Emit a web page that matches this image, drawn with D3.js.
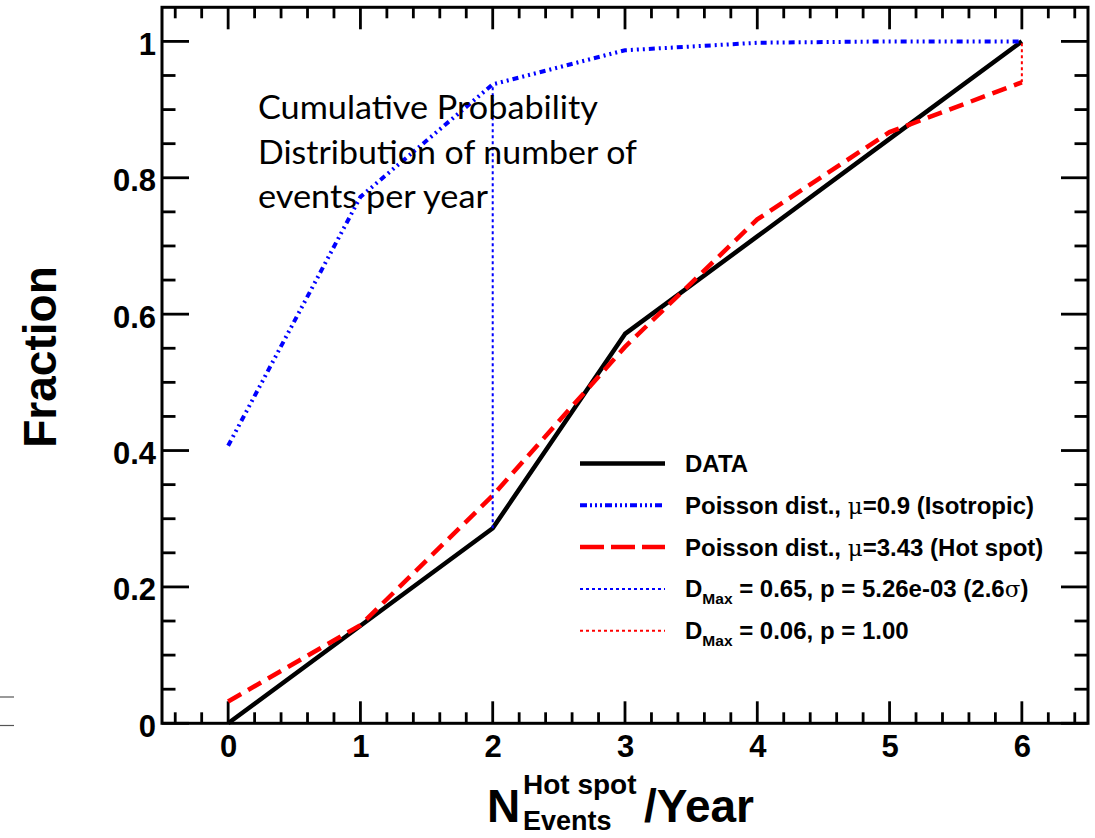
<!DOCTYPE html>
<html>
<head>
<meta charset="utf-8">
<script src="https://cdn.jsdelivr.net/npm/d3@7"></script>
<style>
  html, body { margin: 0; padding: 0; background: #fff; }
  svg { display: block; }
  .lbl { font-family: "Liberation Sans", Arial, Helvetica, sans-serif; font-weight: bold; fill: #000; }
</style>
</head>
<body>
<svg id="chart" width="1095" height="838"></svg>
<script>
// Number of hot-spot events per year
const nEvents = [0, 1, 2, 3, 4, 5, 6];
// Observed cumulative fraction
const dataCdf = [0, 0.143, 0.286, 0.571, 0.714, 0.857, 1.0];
// Poisson CDF, mu = 0.9 (isotropic expectation)
const isoCdf = [0.407, 0.772, 0.937, 0.987, 0.998, 1.0, 1.0];
// Poisson CDF, mu = 3.43 (hot spot expectation)
const hotCdf = [0.032, 0.144, 0.334, 0.552, 0.739, 0.867, 0.940];

// Maximum distance markers: [x, from, to]
const dMaxIso = [2, 0.286, 0.937];
const dMaxHot = [6, 0.940, 1.0];

const xMajor = [0, 1, 2, 3, 4, 5, 6];
const yMajor = [0, 0.2, 0.4, 0.6, 0.8, 1.0];
const yTickText = ["0", "0.2", "0.4", "0.6", "0.8", "1"];

const legendItems = ["DATA", "Poisson dist., |μ|=0.9 (Isotropic)", "Poisson dist., |μ|=3.43 (Hot spot)",
  "D_Max = 0.65, p = 5.26e-03 (2.6|σ|)", "D_Max = 0.06, p = 1.00"];
const noteLines = ["Cumulative Probability", "Distribution of number of", "events per year"];

const svg = d3.select("#chart");
const x = d3.scaleLinear().domain([-0.5, 6.5]).range([162, 1088]);
const y = d3.scaleLinear().domain([0, 1.05]).range([723.3, 7.3]);

// small stray marks on the lower-left margin
svg.append("g").selectAll("line").data([697, 725.5]).join("line")
  .attr("x1", 0).attr("x2", 14).attr("y1", d => d).attr("y2", d => d)
  .attr("stroke", "#555").attr("stroke-width", 1.2);

// ticks (drawn inward on all four sides)
const ticks = svg.append("g").attr("stroke", "#000").attr("stroke-width", 2.8);
const xMinor = d3.range(-4, 65, 2).map(v => v / 10).filter(v => !xMajor.includes(v));
const yMinor = d3.range(1, 21).map(v => v * 0.05).filter(v => !yMajor.some(m => Math.abs(m - v) < 1e-9));
const [yb, yt] = y.range();
const [xl, xr] = x.range();
xMajor.concat(xMinor).forEach(v => {
  const len = xMajor.includes(v) ? 22 : 11;
  ticks.append("line").attr("x1", x(v)).attr("x2", x(v)).attr("y1", yb).attr("y2", yb - len);
  ticks.append("line").attr("x1", x(v)).attr("x2", x(v)).attr("y1", yt).attr("y2", yt + len);
});
yMajor.concat(yMinor).forEach(v => {
  const len = yMajor.some(m => Math.abs(m - v) < 1e-9) ? 27 : 13.5;
  ticks.append("line").attr("y1", y(v)).attr("y2", y(v)).attr("x1", xl).attr("x2", xl + len);
  ticks.append("line").attr("y1", y(v)).attr("y2", y(v)).attr("x1", xr).attr("x2", xr - len);
});

// tick labels through d3 axes
const xAxis = svg.append("g").attr("transform", `translate(0,${yb})`)
  .call(d3.axisBottom(x).tickValues(xMajor).tickFormat(d3.format("d")).tickSize(0).tickPadding(12));
xAxis.select(".domain").remove();
xAxis.selectAll("text").attr("class", "lbl").attr("font-size", 31).attr("dy", "0.71em");

const yAxis = svg.append("g").attr("transform", `translate(${xl},0)`)
  .call(d3.axisLeft(y).tickValues(yMajor).tickFormat((d, i) => yTickText[i]).tickSize(0).tickPadding(6));
yAxis.select(".domain").remove();
yAxis.selectAll("text").attr("class", "lbl").attr("font-size", 31).attr("dy", "0.42em");

// curves
const line = d3.line().x((d, i) => x(nEvents[i])).y(d => y(d));
const curves = svg.append("g").attr("fill", "none");
curves.append("path").datum(dataCdf).attr("d", line)
  .attr("stroke", "#000").attr("stroke-width", 4.5).attr("stroke-linejoin", "round");
curves.append("path").datum(isoCdf).attr("d", line)
  .attr("stroke", "#0000ff").attr("stroke-width", 4).attr("stroke-dasharray", "6 4 2 4 2 4 2 4");
curves.append("path").datum(hotCdf).attr("d", line)
  .attr("stroke", "#ff0000").attr("stroke-width", 4.5).attr("stroke-dasharray", "15 8");

// Kolmogorov distance markers
curves.append("line").attr("x1", x(dMaxIso[0])).attr("x2", x(dMaxIso[0]))
  .attr("y1", y(dMaxIso[1])).attr("y2", y(dMaxIso[2]))
  .attr("stroke", "#0000ff").attr("stroke-width", 2).attr("stroke-dasharray", "3 3");
curves.append("line").attr("x1", x(dMaxHot[0])).attr("x2", x(dMaxHot[0]))
  .attr("y1", y(dMaxHot[1])).attr("y2", y(dMaxHot[2]))
  .attr("stroke", "#ff0000").attr("stroke-width", 2).attr("stroke-dasharray", "3 3");

// frame
svg.append("rect").attr("x", xl).attr("y", yt).attr("width", xr - xl).attr("height", yb - yt)
  .attr("fill", "none").attr("stroke", "#000").attr("stroke-width", 3);

// legend
const legendStyles = [
  { stroke: "#000", width: 4.5, dash: null },
  { stroke: "#0000ff", width: 4, dash: "7 3 2 3 2 3 2 3" },
  { stroke: "#ff0000", width: 4.5, dash: "24 7" },
  { stroke: "#0000ff", width: 2, dash: "3 3" },
  { stroke: "#ff0000", width: 2, dash: "3 3" }
];
const legend = svg.append("g");
legendItems.forEach((txt, i) => {
  const ry = 463.5 + i * 41.8;
  const st = legendStyles[i];
  legend.append("line").attr("x1", 580).attr("x2", 665).attr("y1", ry).attr("y2", ry)
    .attr("stroke", st.stroke).attr("stroke-width", st.width)
    .attr("stroke-dasharray", st.dash);
  const t = legend.append("text").attr("class", "lbl").attr("x", 685).attr("y", ry + 8.5)
    .attr("font-size", 24);
  // "|x|" marks a Greek symbol, "_Max" marks a subscript
  const parts = txt.split("|");
  parts.forEach((p, k) => {
    if (k % 2 === 1) {
      t.append("tspan").attr("font-family", "DejaVu Serif, serif").attr("font-weight", "normal")
        .attr("font-size", 23).text(p);
    } else if (p.startsWith("D_Max")) {
      t.append("tspan").text("D");
      t.append("tspan").attr("font-size", 15.5).attr("dy", 7).text("Max");
      t.append("tspan").attr("dy", -7).text(p.slice(5));
    } else {
      t.append("tspan").text(p);
    }
  });
});

// axis titles
svg.append("text").attr("class", "lbl").attr("font-size", 46)
  .attr("transform", "translate(56,357) rotate(-90)").attr("text-anchor", "middle").text("Fraction");

const xt = svg.append("g").attr("class", "lbl");
xt.append("text").attr("class", "lbl").attr("x", 487).attr("y", 822).attr("font-size", 46).text("N");
xt.append("text").attr("class", "lbl").attr("x", 523).attr("y", 794).attr("font-size", 28).text("Hot spot");
xt.append("text").attr("class", "lbl").attr("x", 523).attr("y", 830).attr("font-size", 27).text("Events");
xt.append("text").attr("class", "lbl").attr("x", 644).attr("y", 822).attr("font-size", 46).text("/Year");

// annotation
const noteWidths = [340, 379, 230];
const note = svg.append("g");
noteLines.forEach((s, i) => {
  note.append("text").attr("x", 258).attr("y", 119 + i * 44.5)
    .attr("font-family", "Lato, 'Open Sans', sans-serif").attr("font-size", 33)
    .attr("fill", "#000").attr("textLength", noteWidths[i]).attr("lengthAdjust", "spacingAndGlyphs")
    .text(s);
});
</script>
</body>
</html>
